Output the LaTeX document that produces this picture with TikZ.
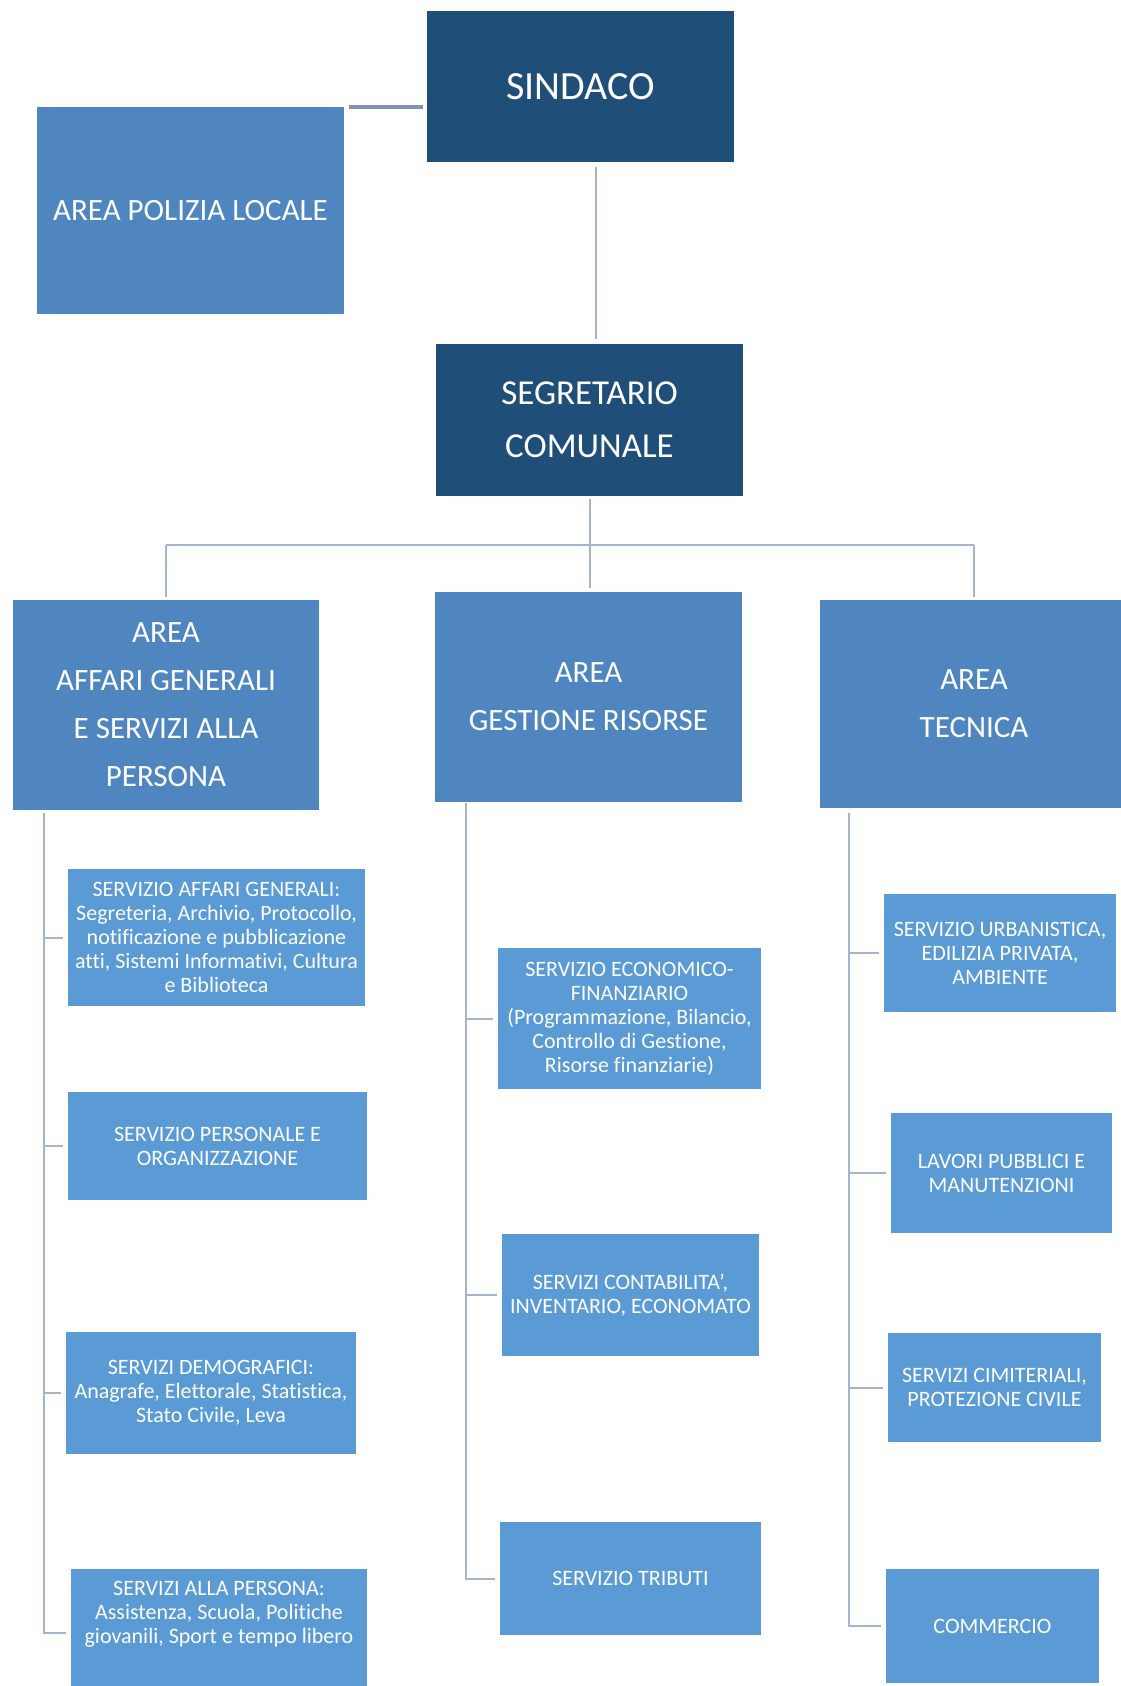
\documentclass[tikz,border=0pt]{standalone}
\usepackage{fontspec}
\setmainfont{Carlito}[Ligatures=NoCommon]
\usepackage{xcolor}
\usepackage{tikz}
\usetikzlibrary{calc,positioning}
\definecolor{navy}{RGB}{31,78,121}
\definecolor{areafill}{RGB}{79,134,192}
\definecolor{servfill}{RGB}{91,155,213}
\definecolor{linkgray}{RGB}{166,180,206}
\definecolor{polgray}{RGB}{126,147,181}
\tikzset{
  head/.style={
    fill=navy, text=white, inner sep=0pt,
    minimum width=307pt, minimum height=151pt,
    align=center, font=\fontsize{35}{53}\selectfont,
  },
  area/.style={
    fill=areafill, text=white, inner sep=0pt,
    minimum width=307pt, minimum height=210pt,
    align=center, font=\fontsize{31}{48}\selectfont,
  },
  serv/.style={
    fill=servfill, text=white, inner sep=0pt,
    align=center, font=\fontsize{22}{24}\selectfont,
  },
  link/.style={draw=linkgray, line width=2pt},
  polink/.style={draw=polgray, line width=3.5pt},
}

\begin{document}
\begin{tikzpicture}[x=1pt,y=-1pt]
  \useasboundingbox (0,0) rectangle (1121,1686);

  \node[head, font=\fontsize{40}{48}\selectfont] (sindaco) at (580.5,86.5) {SINDACO};
  \node[area, minimum height=207pt, font=\fontsize{31}{40}\selectfont] (polizia) at (190.5,210.5) {AREA POLIZIA LOCALE};
  \node[head, minimum height=152pt] (segretario) at (589.5,420) {SEGRETARIO\\COMUNALE};
  \draw[polink, shorten <=5pt, shorten >=4pt] (polizia.north east) -- (polizia.north east -| sindaco.west);
  \draw[link, shorten <=5pt, shorten >=5pt] ([xshift=15.5pt]sindaco.south) -- ([xshift=15.5pt]sindaco.south |- segretario.north);

  \node[area, minimum width=306pt] (affari) at (166,705) {AREA\\AFFARI GENERALI\\E SERVIZI ALLA\\PERSONA};
  \node[area] (gestione) at (588.5,697) {AREA\\GESTIONE RISORSE};
  \node[area, minimum width=308pt, minimum height=208pt] (tecnica) at (974,704) {AREA\\TECNICA};
  \coordinate (bus) at (590,545);
  \draw[link, shorten <=3pt, shorten >=4pt] (segretario.south) -- (segretario.south |- gestione.north);
  \draw[link] (affari.north |- bus) -- (tecnica.north |- bus);
  \draw[link, shorten >=3pt] (affari.north |- bus) -- (affari.north);
  \draw[link, shorten >=3pt] (tecnica.north |- bus) -- (tecnica.north);

  \node[serv, minimum width=297pt, minimum height=137pt] (sag) at (216.5,937.5) {SERVIZIO AFFARI GENERALI:\\Segreteria, Archivio, Protocollo,\\notificazione e pubblicazione\\atti, Sistemi Informativi, Cultura\\e Biblioteca};
  \node[serv, minimum width=299pt, minimum height=108pt] (spo) at (217.5,1146) {SERVIZIO PERSONALE E\\ORGANIZZAZIONE};
  \node[serv, minimum width=290pt, minimum height=122pt] (sde) at (211,1393) {SERVIZI DEMOGRAFICI:\\Anagrafe, Elettorale, Statistica,\\Stato Civile, Leva};
  \node[serv, minimum width=296pt, minimum height=128pt] (spe) at (219,1633) {SERVIZI ALLA PERSONA:\\Assistenza, Scuola, Politiche\\giovanili, Sport e tempo libero\\[18pt]\mbox{}};
  \foreach \s in {sag,spo,sde,spe}
    \draw[link, shorten <=3pt, shorten >=5pt] ([xshift=31pt]affari.south west) |- (\s.west);

  \node[serv, minimum width=263pt, minimum height=141pt] (sef) at (629.5,1018.5) {SERVIZIO ECONOMICO-\\FINANZIARIO\\(Programmazione, Bilancio,\\Controllo di Gestione,\\Risorse finanziarie)};
  \node[serv, minimum width=257pt, minimum height=122pt] (sco) at (630.5,1295) {SERVIZI CONTABILITA',\\INVENTARIO, ECONOMATO};
  \node[serv, minimum width=261pt, minimum height=113pt] (str) at (630.5,1578.5) {SERVIZIO TRIBUTI};
  \foreach \s in {sef,sco,str}
    \draw[link, shorten <=1pt, shorten >=5pt] ([xshift=31pt]gestione.south west) |- (\s.west);

  \node[serv, minimum width=232pt, minimum height=118pt] (sur) at (1000,953) {SERVIZIO URBANISTICA,\\EDILIZIA PRIVATA,\\AMBIENTE};
  \node[serv, minimum width=221pt, minimum height=120pt] (slp) at (1001.5,1173) {LAVORI PUBBLICI E\\MANUTENZIONI};
  \node[serv, minimum width=213pt, minimum height=109pt] (sci) at (994.5,1387.5) {SERVIZI CIMITERIALI,\\PROTEZIONE CIVILE};
  \node[serv, minimum width=213pt, minimum height=114pt] (scm) at (992.5,1626) {COMMERCIO};
  \foreach \s in {sur,slp,sci,scm}
    \draw[link, shorten <=5pt, shorten >=5pt] ([xshift=29pt]tecnica.south west) |- (\s.west);
\end{tikzpicture}
\end{document}
